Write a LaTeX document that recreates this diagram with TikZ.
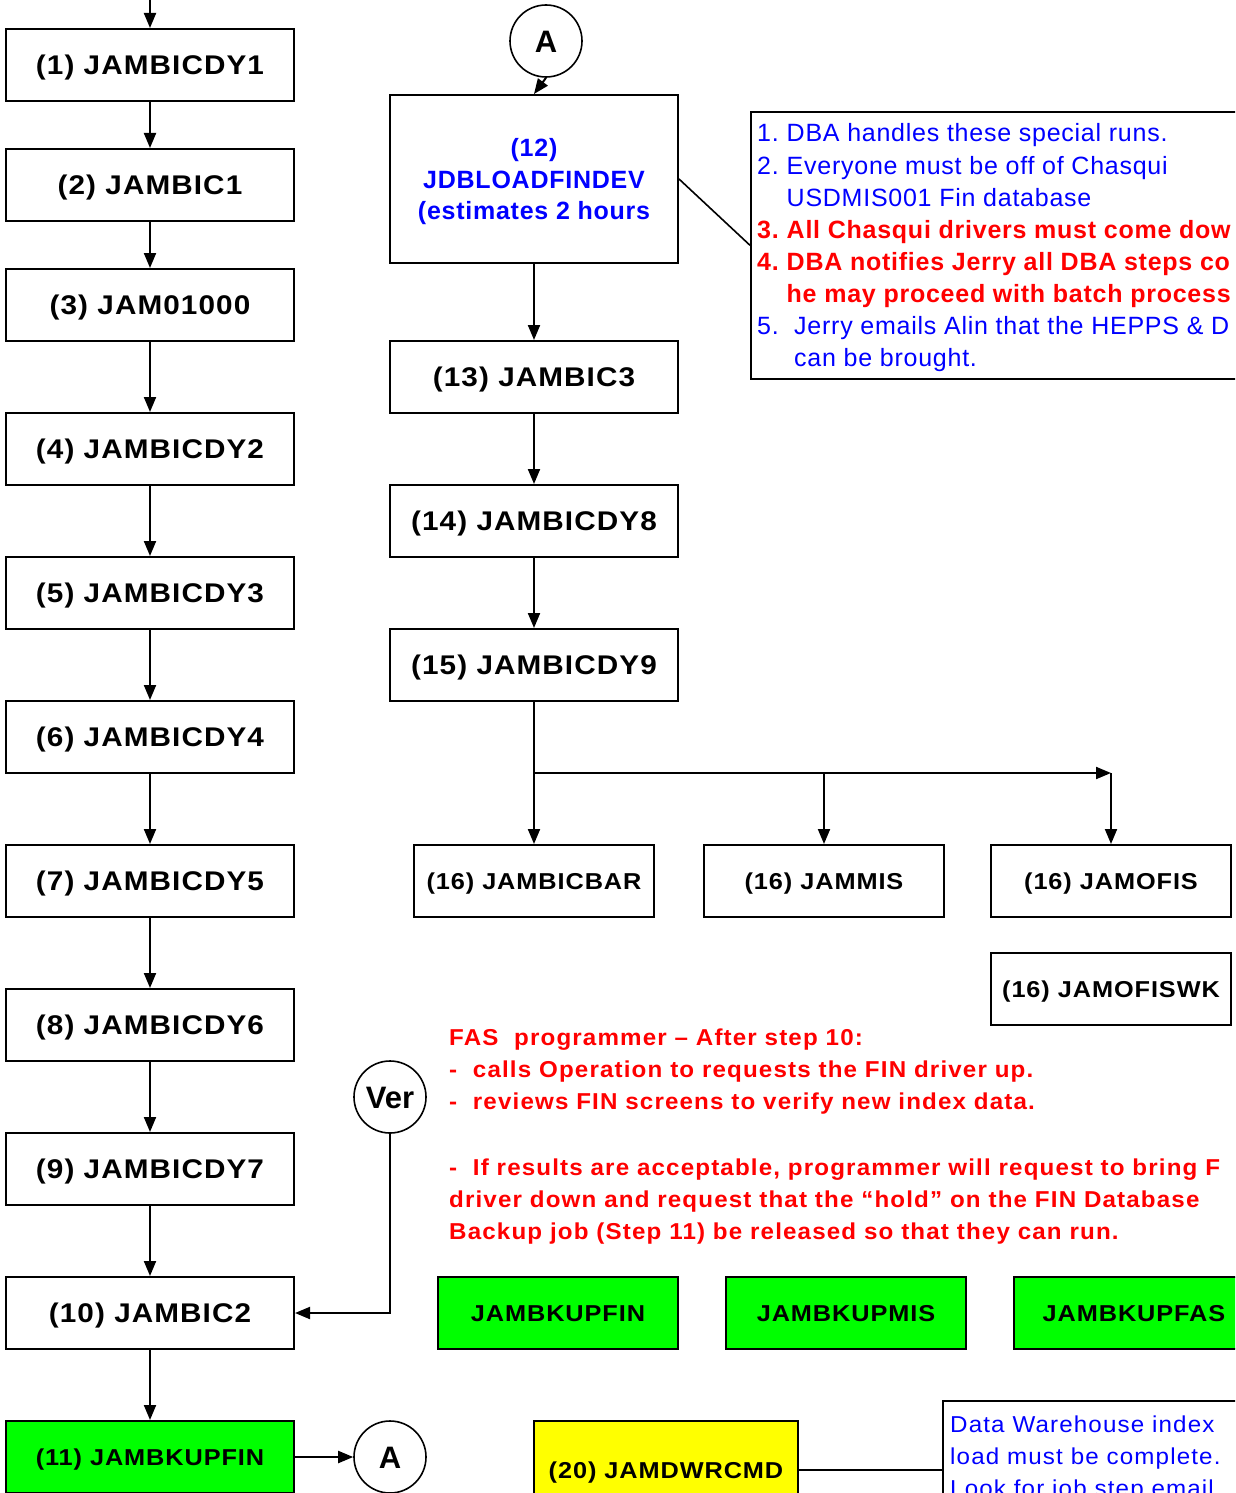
\documentclass[tikz,border=0pt]{standalone}
\usepackage{fontspec}
\setmainfont{Liberation Sans}
\newfontfamily\fwide{Liberation Sans}[FakeStretch=1.1,LetterSpace=4]
\newfontfamily\fred{Liberation Sans}[FakeStretch=1.05,LetterSpace=5]
\newfontfamily\fnote{Liberation Sans}[LetterSpace=3]
\usetikzlibrary{arrows.meta}
\definecolor{jblue}{RGB}{0,0,255}
\definecolor{jred}{RGB}{255,0,0}
\definecolor{jgreen}{RGB}{0,255,0}
\definecolor{jyellow}{RGB}{255,255,0}
\begin{document}
\begin{tikzpicture}[x=1pt,y=-1pt,
  jbox/.style={draw, line width=2pt, minimum width=288pt, minimum height=72pt, inner sep=0pt,
    font=\fwide\bfseries\fontsize{27}{30}\selectfont, text height=19.3pt, text depth=0pt},
  sbox/.style={draw, line width=2pt, minimum width=240pt, minimum height=72pt, inner sep=0pt,
    font=\fwide\bfseries\fontsize{23}{26}\selectfont, text height=16.5pt, text depth=0pt},
  gbox/.style={sbox, fill=jgreen},
  circ/.style={circle, draw, line width=1.6pt, minimum size=72pt, inner sep=0pt,
    font=\bfseries\fontsize{31}{36}\selectfont, text height=22.2pt, text depth=0pt},
  arr/.style={line width=2pt, -{Triangle[length=15pt,width=12pt]}},
  conn/.style={line width=2pt},
  notebox/.style={draw, line width=1.6pt, anchor=north west, inner sep=0pt},
  bluetxt/.style={anchor=base west, inner sep=0pt, text=jblue, font=\fnote\fontsize{25}{32}\selectfont},
  redtxt/.style={anchor=base west, inner sep=0pt, text=jred, font=\fnote\bfseries\fontsize{25}{32}\selectfont},
  fastxt/.style={anchor=base west, inner sep=0pt, text=jred, font=\fred\bfseries\fontsize{23}{32}\selectfont},
  dwtxt/.style={anchor=base west, inner sep=0pt, text=jblue, font=\fred\fontsize{23}{32}\selectfont}
]
\useasboundingbox (0,0) rectangle (1235,1493);
\clip (0,0) rectangle (1235,1493);
\fill[white] (0,0) rectangle (1235,1493);

% left column
\coordinate (top) at (150,0);
\node[jbox] (b1) at (150,65) {(1) JAMBICDY1};
\node[jbox] (b2) at (150,185) {(2) JAMBIC1};
\node[jbox] (b3) at (150,305) {(3) JAM01000};
\node[jbox] (b4) at (150,449) {(4) JAMBICDY2};
\node[jbox] (b5) at (150,593) {(5) JAMBICDY3};
\node[jbox] (b6) at (150,737) {(6) JAMBICDY4};
\node[jbox] (b7) at (150,881) {(7) JAMBICDY5};
\node[jbox] (b8) at (150,1025) {(8) JAMBICDY6};
\node[jbox] (b9) at (150,1169) {(9) JAMBICDY7};
\node[jbox] (b10) at (150,1313) {(10) JAMBIC2};
\node[sbox, fill=jgreen, minimum width=288pt] (b11) at (150,1457) {(11) JAMBKUPFIN};

\draw[arr] (top) -- (b1.north);
\draw[arr] (b1.south) -- (b2.north);
\draw[arr] (b2.south) -- (b3.north);
\draw[arr] (b3.south) -- (b4.north);
\draw[arr] (b4.south) -- (b5.north);
\draw[arr] (b5.south) -- (b6.north);
\draw[arr] (b6.south) -- (b7.north);
\draw[arr] (b7.south) -- (b8.north);
\draw[arr] (b8.south) -- (b9.north);
\draw[arr] (b9.south) -- (b10.north);
\draw[arr] (b10.south) -- (b11.north);

% connectors A and Ver
\node[circ] (A2) at (390,1457) {A};
\draw[arr] (b11.east) -- (A2.west);
\node[circ] (ver) at (390,1097) {Ver};
\draw[arr] (ver.south) |- (b10.east);

% middle column
\node[circ] (A1) at (546,41) {A};
\node[draw, line width=2pt, minimum width=288pt, minimum height=168pt, inner sep=0pt] (b12) at (534,179) {};
\node[align=center, inner sep=0pt, text=jblue, font=\fnote\bfseries\fontsize{25}{31.5}\selectfont] (b12t) at (534,182) {(12)\\JDBLOADFINDEV\\(estimates 2 hours};
\draw[arr] (A1.south) -- (b12.north);

\node[jbox] (b13) at (534,377) {(13) JAMBIC3};
\node[jbox] (b14) at (534,521) {(14) JAMBICDY8};
\node[jbox] (b15) at (534,665) {(15) JAMBICDY9};
\draw[arr] (b12.south) -- (b13.north);
\draw[arr] (b13.south) -- (b14.north);
\draw[arr] (b14.south) -- (b15.north);

\node[sbox] (b16a) at (534,881) {(16) JAMBICBAR};
\node[sbox] (b16b) at (824,881) {(16) JAMMIS};
\node[sbox] (b16c) at (1111,881) {(16) JAMOFIS};
\node[sbox] (b16d) at (1111,989) {(16) JAMOFISWK};
\coordinate (fk) at (534,773);
\coordinate (fkr) at (1111,773);
\draw[arr] (b15.south) -- (b16a.north);
\draw[arr] (fk) -- (fkr);
\draw[arr] (fkr) -- (b16c.north);
\draw[arr] (fk -| b16b) -- (b16b.north);

% note box 1
\node[notebox, minimum width=560pt, minimum height=267pt] (note1) at (750,111) {};
\draw[conn, line width=1.6pt] (b12.east) -- (note1.west);
\node[bluetxt] (n1) at (757,142) {\makebox[29.5pt][l]{1.}DBA handles these special runs.};
\node[bluetxt] (n2) at (757,174) {\makebox[29.5pt][l]{2.}Everyone must be off of Chasqui};
\node[bluetxt] (n2b) at (786.5,206) {USDMIS001 Fin database};
\node[redtxt] (n3) at (757,238) {\makebox[29.5pt][l]{3.}All Chasqui drivers must come dow};
\node[redtxt] (n4) at (757,270) {\makebox[29.5pt][l]{4.}DBA notifies Jerry all DBA steps co};
\node[redtxt] (n4b) at (786.5,302) {he may proceed with batch process};
\node[bluetxt] (n5) at (757,334) {\makebox[37pt][l]{5.}Jerry emails Alin that the HEPPS \& D};
\node[bluetxt] (n5b) at (794,366) {can be brought.};

% FAS programmer text
\node[fastxt] (f1) at (449,1045) {FAS\ \ programmer – After step 10:};
\node[fastxt] (f2) at (449,1077) {-\ \ calls Operation to requests the FIN driver up.};
\node[fastxt] (f3) at (449,1109) {-\ \ reviews FIN screens to verify new index data.};
\node[fastxt] (f4) at (449,1175) {-\ \ If results are acceptable, programmer will request to bring F};
\node[fastxt] (f5) at (449,1207) {driver down and request that the “hold” on the FIN Database};
\node[fastxt] (f6) at (449,1239) {Backup job (Step 11) be released so that they can run.};

% green backup boxes
\node[gbox] (g1) at (558,1313) {JAMBKUPFIN};
\node[gbox] (g2) at (846,1313) {JAMBKUPMIS};
\node[gbox] (g3) at (1134,1313) {JAMBKUPFAS};

% bottom: yellow box and note
\node[sbox, fill=jyellow, minimum width=264pt, minimum height=98pt] (y20) at (666,1470) {(20) JAMDWRCMD};
\node[notebox, minimum width=400pt, minimum height=200pt] (dw) at (942,1400) {};
\draw[conn] (y20.east) -- (y20.east -| dw.west);
\node[dwtxt] (d1) at (950,1432) {Data Warehouse index};
\node[dwtxt] (d2) at (950,1464) {load must be complete.};
\node[dwtxt] (d3) at (950,1496) {Look for job step email};
\end{tikzpicture}
\end{document}
